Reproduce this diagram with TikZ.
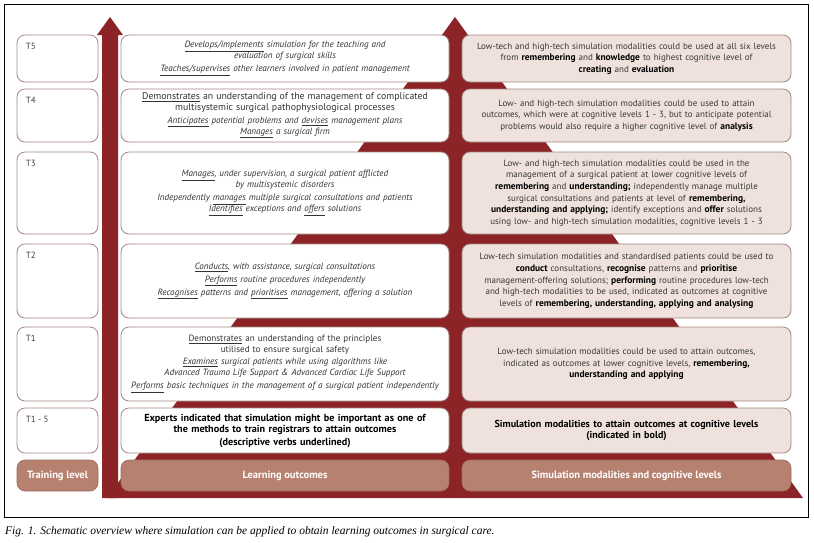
\documentclass[tikz,border=0pt]{standalone}
\usepackage{fontspec}
\setmainfont{PT Sans}[BoldFeatures={Scale=1.05}]
\newfontfamily\capfont{Liberation Serif}
\newcommand{\vb}[1]{\underline{#1}}
\definecolor{pyramid}{HTML}{8B2327}
\definecolor{edge}{HTML}{A38781}
\definecolor{simfill}{HTML}{EFE1DB}
\definecolor{headfill}{HTML}{B7816F}
\begin{document}
\begin{tikzpicture}[x=1pt, y=-1pt, every node/.style={align=center}]
\tikzset{
  level/.style={draw=edge, line width=0.8pt, rounded corners=8pt, fill=white, minimum width=81pt, inner sep=0pt},
  outcome/.style={draw=edge, line width=0.8pt, rounded corners=8pt, fill=white, minimum width=328pt, text width=322pt, inner xsep=3pt, font=\fontsize{9.1}{10.9}\selectfont\itshape, text=black!80},
  sim/.style={draw=edge, line width=0.8pt, rounded corners=8pt, fill=simfill, minimum width=329pt, text width=323pt, inner xsep=3pt, font=\fontsize{9}{11.6}\selectfont, text=black!78},
  head/.style={draw=headfill!85!black, line width=0.6pt, rounded corners=8pt, fill=headfill, text=white, font=\fontsize{10}{12}\selectfont\bfseries, minimum height=31pt},
  tag/.style={anchor=north west, inner sep=0pt, font=\fontsize{9}{10}\selectfont, text=black!75}
}
\useasboundingbox (0,0) rectangle (814,542);
\draw[line width=0.7pt] (4,4) rectangle (808,517);

% red pyramid and arrow behind the boxes
\fill[pyramid] (455,17) -- (803,498) -- (107,498) -- cycle;
\fill[pyramid] (110,17) -- (123,35) -- (118,35) -- (118,498) -- (102,498) -- (102,35) -- (97,35) -- cycle;

% training levels
\node[level, minimum height=47] (t5Level) at (57.5,58.5) {};
\node[level, minimum height=53] (t4Level) at (57.5,115.5) {};
\node[level, minimum height=82] (t3Level) at (57.5,193) {};
\node[level, minimum height=74] (t2Level) at (57.5,281) {};
\node[level, minimum height=74] (t1Level) at (57.5,364) {};
\node[level, minimum height=45] (allLevel) at (57.5,430.5) {};
\node[tag] (t5Tag) at ([shift={(9,8)}]t5Level.north west) {T5};
\node[tag] (t4Tag) at ([shift={(9,8)}]t4Level.north west) {T4};
\node[tag] (t3Tag) at ([shift={(9,8)}]t3Level.north west) {T3};
\node[tag] (t2Tag) at ([shift={(9,8)}]t2Level.north west) {T2};
\node[tag] (t1Tag) at ([shift={(9,8)}]t1Level.north west) {T1};
\node[tag] (allTag) at ([shift={(9,8)}]allLevel.north west) {T1 - 5};

% learning outcomes
\node[outcome, minimum height=47] (t5Out) at (285,58.5) {\vb{Develops/implements} simulation for the teaching and\\ evaluation of surgical skills\\[2pt] \vb{Teaches/supervises} other learners involved in patient management};
\node[outcome, minimum height=53] (t4Out) at (285,115.5) {\upshape\fontsize{9.8}{10.9}\selectfont\vb{Demonstrates} an understanding of the management of complicated\\ \upshape multisystemic surgical pathophysiological processes\\[2pt] \itshape\fontsize{9.1}{10.9}\selectfont\vb{Anticipates} potential problems and \vb{devises} management plans\\ \itshape\vb{Manages} a surgical firm};
\node[outcome, minimum height=82] (t3Out) at (285,193) {\vb{Manages}, under supervision, a surgical patient afflicted\\ by multisystemic disorders\\[2pt] Independently \vb{manages} multiple surgical consultations and patients\\ \vb{Identifies} exceptions and \vb{offers} solutions};
\node[outcome, minimum height=74] (t2Out) at (285,281) {\vb{Conducts}, with assistance, surgical consultations\\[2pt] \vb{Performs} routine procedures independently\\[2pt] \vb{Recognises} patterns and \vb{prioritises} management, offering a solution};
\node[outcome, minimum height=74] (t1Out) at (285,364) {\upshape\vb{Demonstrates} an understanding of the principles\\ \upshape utilised to ensure surgical safety\\[1pt] \itshape\vb{Examines} surgical patients while using algorithms like\\ \itshape Advanced Trauma Life Support \& Advanced Cardiac Life Support\\[2pt] \itshape\vb{Performs} basic techniques in the management of a surgical patient independently};
\node[outcome, minimum height=45, font=\fontsize{9.7}{11}\selectfont\bfseries, text=black] (allOut) at (285,430.5) {Experts indicated that simulation might be important as one of\\ the methods to train registrars to attain outcomes\\[2pt] (descriptive verbs underlined)};

% simulation modalities
\node[sim, minimum height=47] (t5Sim) at (626.5,58.5) {Low-tech and high-tech simulation modalities could be used at all six levels\\ from \textbf{\color{black}remembering} and \textbf{\color{black}knowledge} to highest cognitive level of\\ \textbf{\color{black}creating} and \textbf{\color{black}evaluation}};
\node[sim, minimum height=53] (t4Sim) at (626.5,115.5) {Low- and high-tech simulation modalities could be used to attain\\ outcomes, which were at cognitive levels 1 - 3, but to anticipate potential\\ problems would also require a higher cognitive level of \textbf{\color{black}analysis}};
\node[sim, minimum height=82] (t3Sim) at (626.5,193) {Low- and high-tech simulation modalities could be used in the\\ management of a surgical patient at lower cognitive levels of\\ \textbf{\color{black}remembering} and \textbf{\color{black}understanding;} independently manage multiple\\ surgical consultations and patients at level of \textbf{\color{black}remembering,}\\ \textbf{\color{black}understanding and applying;} identify exceptions and \textbf{\color{black}offer} solutions\\ using low- and high-tech simulation modalities, cognitive levels 1 - 3};
\node[sim, minimum height=74] (t2Sim) at (626.5,281) {Low-tech simulation modalities and standardised patients could be used to\\ \textbf{\color{black}conduct} consultations, \textbf{\color{black}recognise} patterns and \textbf{\color{black}prioritise}\\ management-offering solutions; \textbf{\color{black}performing} routine procedures low-tech\\ and high-tech modalities to be used, indicated as outcomes at cognitive\\ levels of \textbf{\color{black}remembering, understanding, applying and analysing}};
\node[sim, minimum height=74] (t1Sim) at (626.5,364) {Low-tech simulation modalities could be used to attain outcomes,\\ indicated as outcomes at lower cognitive levels, \textbf{\color{black}remembering,}\\ \textbf{\color{black}understanding and applying}};
\node[sim, minimum height=45, font=\fontsize{9.6}{11.6}\selectfont\bfseries, text=black] (allSim) at (626.5,430.5) {Simulation modalities to attain outcomes at cognitive levels\\ (indicated in bold)};

% column headings
\node[head, minimum width=81] (levelHead) at (57.5,475.5) {Training level};
\node[head, minimum width=328] (outHead) at (285,475.5) {Learning outcomes};
\node[head, minimum width=329] (simHead) at (626.5,475.5) {Simulation modalities and cognitive levels};

\node[anchor=west, inner sep=0pt, font=\capfont\itshape\fontsize{11.5}{13}\selectfont] (caption) at (5,532) {Fig. 1. Schematic overview where simulation can be applied to obtain learning outcomes in surgical care.};
\end{tikzpicture}
\end{document}
